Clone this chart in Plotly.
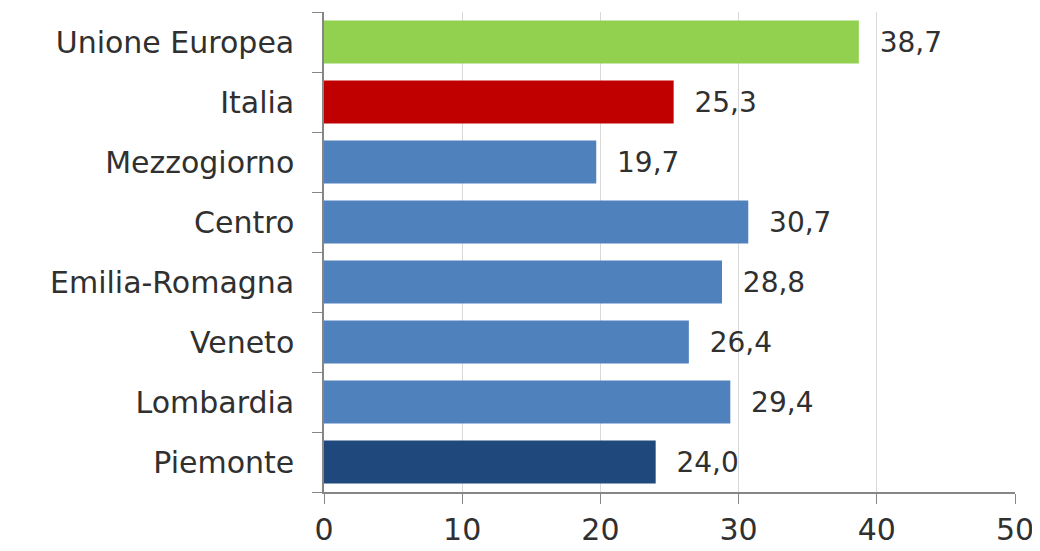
import plotly.graph_objects as go

# categorie dal basso verso l'alto
regioni = ["Piemonte", "Lombardia", "Veneto", "Emilia-Romagna", "Centro",
           "Mezzogiorno", "Italia", "Unione Europea"]
valori = [24.0, 29.4, 26.4, 28.8, 30.7, 19.7, 25.3, 38.7]
colori = ["#1F497D", "#4F81BD", "#4F81BD", "#4F81BD", "#4F81BD",
          "#4F81BD", "#C00000", "#92D050"]
etichette = [f"{v:.1f}".replace(".", ",") for v in valori]
tick_x = [0, 10, 20, 30, 40, 50]

font = "'DejaVu Sans', sans-serif"

fig = go.Figure(go.Bar(
    x=valori, y=regioni, orientation="h",
    marker=dict(color=colori, line=dict(width=0)),
    text=etichette, texttemplate="  %{text}", textposition="outside",
    cliponaxis=False,
    textfont=dict(size=28, color="#303030", family=font),
))

# la pagina ha un margine di 8px: figura un po' più piccola della finestra
fig.update_layout(
    width=1032, height=543,
    margin=dict(l=316, r=25, t=4, b=59),
    plot_bgcolor="white", paper_bgcolor="white",
    bargap=0.28, showlegend=False,
    font=dict(family=font, color="#303030"),
)
fig.update_xaxes(
    range=[0, 50], tickvals=tick_x, showgrid=True, gridcolor="#D9D9D9",
    gridwidth=1, showline=True, linecolor="#868686", linewidth=1.5,
    ticks="outside", ticklen=10, tickcolor="#868686",
    tickfont=dict(size=30), zeroline=False, automargin=False,
)
fig.update_yaxes(
    showline=True, linecolor="#868686", linewidth=1.5,
    ticks="outside", ticklen=10, tickcolor="#868686", tickson="boundaries",
    tickfont=dict(size=30), ticklabelstandoff=22, automargin=False,
)

fig.write_html("out.html")
